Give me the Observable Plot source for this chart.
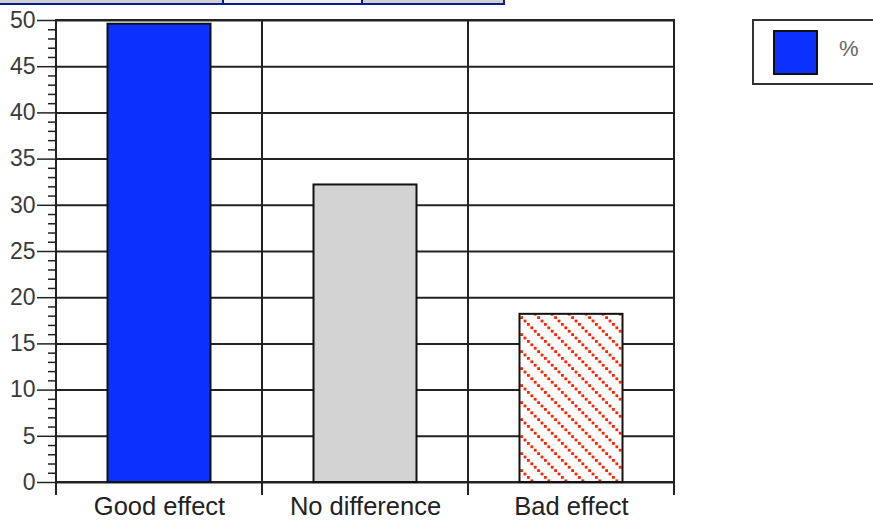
<!DOCTYPE html>
<html>
<head>
<meta charset="utf-8">
<script src="https://cdn.jsdelivr.net/npm/d3@7"></script>
<script src="https://cdn.jsdelivr.net/npm/@observablehq/plot@0.6"></script>
<style>
  html, body { margin: 0; padding: 0; background: #fff; }
  body { width: 873px; height: 521px; overflow: hidden; position: relative; font-family: "Liberation Sans", Arial, Helvetica, sans-serif; }
  #chart { position: absolute; left: 0; top: 0; }
  .strip { position: absolute; left: 0; top: 0; width: 503px; height: 3px; display: flex;
           border-right: 2px solid #0b1c8c; border-bottom: 2px solid #0b1c8c; }
  .strip div { height: 3px; background: #cfcfcf; }
  .strip div + div { border-left: 2px solid #0b1c8c; }
  .strip .light { background: #ededed; }
  .legend { position: absolute; left: 752px; top: 19px; width: 150px; height: 62px; border: 2px solid #333; background: #fff; }
  .legend .sw { position: absolute; left: 19px; top: 9px; width: 41px; height: 41px; border: 2px solid #111; }
  .legend .lab { position: absolute; left: 85px; top: 17px; font-size: 22px; color: #666; line-height: 1; }
</style>
</head>
<body>
<div class="strip"><div style="width:222px"></div><div class="light" style="width:137px"></div><div style="width:140px"></div></div>
<div id="chart"></div>
<div class="legend"><div class="sw" id="sw"></div><div class="lab" id="leglab"></div></div>
<script>
// ---- data ----
const categories = ["Good effect", "No difference", "Bad effect"];
const percents = [49.6, 32.2, 18.2];
const seriesName = "%";
const yMajorTicks = [0, 5, 10, 15, 20, 25, 30, 35, 40, 45, 50];
const yMinorTicks = d3.range(0, 51, 1).filter(v => v % 5 !== 0);

// ---- styles ----
const barColors = ["#0c31ff", "#d3d3d3", "url(#hatch)"];
const ink = "#222";

const rows = categories.map((c, i) => ({category: c, value: percents[i]}));

// custom mark: band boundary ticks below the baseline
function boundaryTicks(index, scales, values, dims) {
  const x = scales.x, y = scales.y;
  const bw = typeof x.bandwidth === "function" ? x.bandwidth()
    : (x.bandwidth ?? (dims.width - dims.marginLeft - dims.marginRight) / categories.length);
  const xs = categories.map(c => x(c)).concat([x(categories[categories.length - 1]) + bw]);
  const y0 = y(0);
  const g = d3.create("svg:g").attr("stroke", ink).attr("stroke-width", 2);
  for (const xv of xs) {
    g.append("line").attr("x1", xv).attr("x2", xv).attr("y1", y0).attr("y2", y0 + 13);
  }
  return g.node();
}

const plot = Plot.plot({
  width: 873,
  height: 521,
  marginLeft: 55,
  marginRight: 199,
  marginTop: 20,
  marginBottom: 39,
  style: {fontFamily: "Liberation Sans, Arial, Helvetica, sans-serif", color: "#333", background: "transparent", overflow: "visible"},
  x: {domain: categories, padding: 0, label: null},
  y: {domain: [0, 50], label: null},
  color: {domain: categories, range: barColors},
  marks: [
    Plot.ruleY(yMajorTicks, {y: d => d, stroke: ink, strokeWidth: 2}),
    Plot.barY(categories, {x: d => d, y1: 0, y2: 50, fill: "none", stroke: ink, strokeWidth: 2}),
    Plot.barY(rows, {x: "category", y: "value", fill: "category", stroke: "#111", strokeWidth: 2, insetLeft: 51.5, insetRight: 51.5}),
    Plot.axisY({ticks: yMinorTicks, tickSize: 7, tickFormat: () => "", stroke: ink, strokeWidth: 1.5}),
    Plot.axisY({ticks: yMajorTicks, tickSize: 18, tickPadding: 2, fontSize: 23, stroke: ink, strokeWidth: 1.5, fill: "#3a3a3a"}),
    Plot.axisX({tickSize: 0, tickPadding: 14, fontSize: 25.5, fill: "#222"}),
    boundaryTicks
  ]
});

// hatch pattern for the "Bad effect" bar: dotted red diagonals
const svg = d3.select(plot);
const defs = svg.insert("defs", ":first-child");
const tile = 17, dots = 5;
const pat = defs.append("pattern").attr("id", "hatch").attr("patternUnits", "userSpaceOnUse")
  .attr("width", tile).attr("height", tile);
pat.append("rect").attr("width", tile).attr("height", tile).attr("fill", "#fff");
for (let k = 0; k < dots; k++) {
  pat.append("rect").attr("x", k * tile / dots).attr("y", k * tile / dots)
    .attr("width", 2.8).attr("height", 2.8).attr("fill", "#ff2200");
}

document.getElementById("chart").appendChild(plot);
document.getElementById("sw").style.background = barColors[0];
document.getElementById("leglab").textContent = seriesName;
</script>
</body>
</html>
